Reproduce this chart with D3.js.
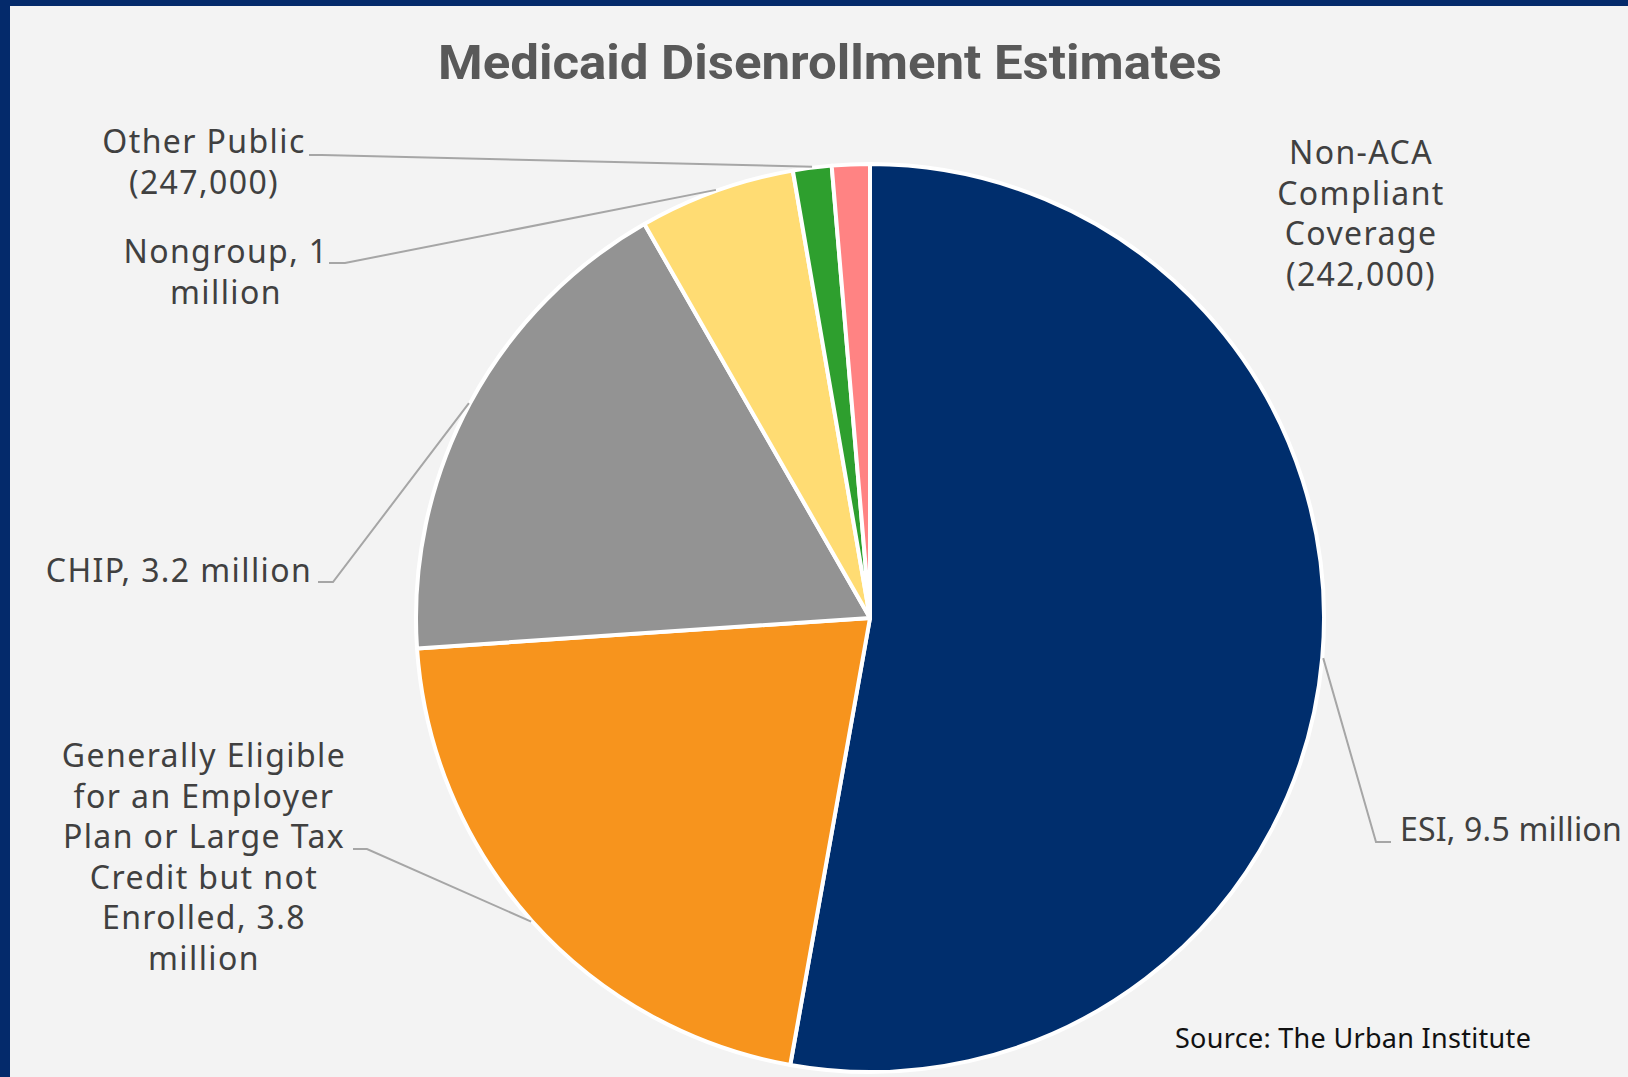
<!DOCTYPE html>
<html>
<head>
<meta charset="utf-8">
<script src="https://cdn.jsdelivr.net/npm/d3@7"></script>
<style>
  html, body { margin: 0; padding: 0; background: #f3f3f3; }
  svg { display: block; }
</style>
</head>
<body>
<svg id="chart" width="1628" height="1077"></svg>
<script>
// ---------------- DATA ----------------
const categories = [
  "ESI",
  "Generally Eligible for an Employer Plan or Large Tax Credit but not Enrolled",
  "CHIP",
  "Nongroup",
  "Other Public",
  "Non-ACA Compliant Coverage"
];
const values = [9.5, 3.8, 3.2, 1.0, 0.247, 0.242]; // millions
const labelLines = [
  ["ESI, 9.5 million"],
  ["Generally Eligible", "for an Employer", "Plan or Large Tax", "Credit but not", "Enrolled, 3.8", "million"],
  ["CHIP, 3.2 million"],
  ["Nongroup, 1", "million"],
  ["Other Public", "(247,000)"],
  ["Non-ACA", "Compliant", "Coverage", "(242,000)"]
];
const titleText = "Medicaid Disenrollment Estimates";
const sourceText = "Source: The Urban Institute";

// ---------------- STYLE / LAYOUT ----------------
const palette = ["#002e6d", "#f7941d", "#939393", "#ffdc73", "#2e9f2e", "#ff8383"];
const W = 1628, H = 1077;
const cx = 870, cy = 618, R = 454;
const lineH = 40.6;
// label layout: x, first baseline y, anchor, letter spacing; leader: text-side x, elbow x, line y (or null)
const labelLayout = [
  { x: 1400, y: 841, anchor: "start",  ls: 0.2, leader: { x0: 1391, x1: 1376, y: 842 } },
  { x: 204,  y: 767, anchor: "middle", ls: 1.4, leader: { x0: 353,  x1: 367,  y: 849 } },
  { x: 179,  y: 582, anchor: "middle", ls: 1.4, leader: { x0: 318,  x1: 333,  y: 582 } },
  { x: 226,  y: 263, anchor: "middle", ls: 1.4, leader: { x0: 329,  x1: 345,  y: 263 } },
  { x: 204,  y: 153, anchor: "middle", ls: 1.4, leader: { x0: 309,  x1: 322,  y: 155 } },
  { x: 1361, y: 164, anchor: "middle", ls: 1.4, leader: null }
];

const svg = d3.select("#chart");

// background & frame
svg.append("rect").attr("x", 0).attr("y", 0).attr("width", W).attr("height", H).attr("fill", "#f3f3f3");
svg.append("rect").attr("x", 0).attr("y", 0).attr("width", W).attr("height", 6).attr("fill", "#042a6b");
svg.append("rect").attr("x", 0).attr("y", 0).attr("width", 10).attr("height", H).attr("fill", "#042a6b");

// title
svg.append("text")
  .attr("x", 830).attr("y", 79)
  .attr("text-anchor", "middle")
  .attr("font-family", "Roboto, 'Noto Sans', sans-serif")
  .attr("font-weight", 700)
  .attr("font-size", 48)
  .attr("fill", "#595959")
  .attr("textLength", 784)
  .attr("lengthAdjust", "spacingAndGlyphs")
  .text(titleText);

// pie
const data = categories.map((c, i) => ({ name: c, value: values[i], lines: labelLines[i], i }));
const pie = d3.pie().sort(null).value(d => d.value).startAngle(0).endAngle(2 * Math.PI);
const arcs = pie(data);
const arc = d3.arc().innerRadius(0).outerRadius(R);
const edgeArc = d3.arc().innerRadius(R + 1).outerRadius(R + 1);

const g = svg.append("g").attr("transform", `translate(${cx},${cy})`);
g.selectAll("path.slice")
  .data(arcs)
  .join("path")
  .attr("class", "slice")
  .attr("d", arc)
  .attr("fill", d => palette[d.data.i])
  .attr("stroke", "#ffffff")
  .attr("stroke-width", 4)
  .attr("stroke-linejoin", "round");

// leader lines
arcs.forEach(a => {
  const L = labelLayout[a.data.i];
  if (!L.leader) return;
  const [ex, ey] = edgeArc.centroid(a);
  const pts = [[L.leader.x0, L.leader.y], [L.leader.x1, L.leader.y], [cx + ex, cy + ey]];
  svg.append("path")
    .attr("d", d3.line()(pts))
    .attr("fill", "none")
    .attr("stroke", "#a6a6a6")
    .attr("stroke-width", 2);
});

// labels
arcs.forEach(a => {
  const L = labelLayout[a.data.i];
  const t = svg.append("text")
    .attr("text-anchor", L.anchor)
    .attr("font-family", "'Noto Sans', 'Open Sans', sans-serif")
    .attr("font-size", 32)
    .attr("letter-spacing", L.ls)
    .attr("fill", "#404040");
  a.data.lines.forEach((ln, k) => {
    t.append("tspan").attr("x", L.x).attr("y", L.y + k * lineH).text(ln);
  });
});

// source
svg.append("text")
  .attr("x", 1175).attr("y", 1048)
  .attr("font-family", "'Noto Sans', 'Open Sans', sans-serif")
  .attr("font-size", 27)
  .attr("letter-spacing", 0.3)
  .attr("fill", "#111111")
  .text(sourceText);
</script>
</body>
</html>
